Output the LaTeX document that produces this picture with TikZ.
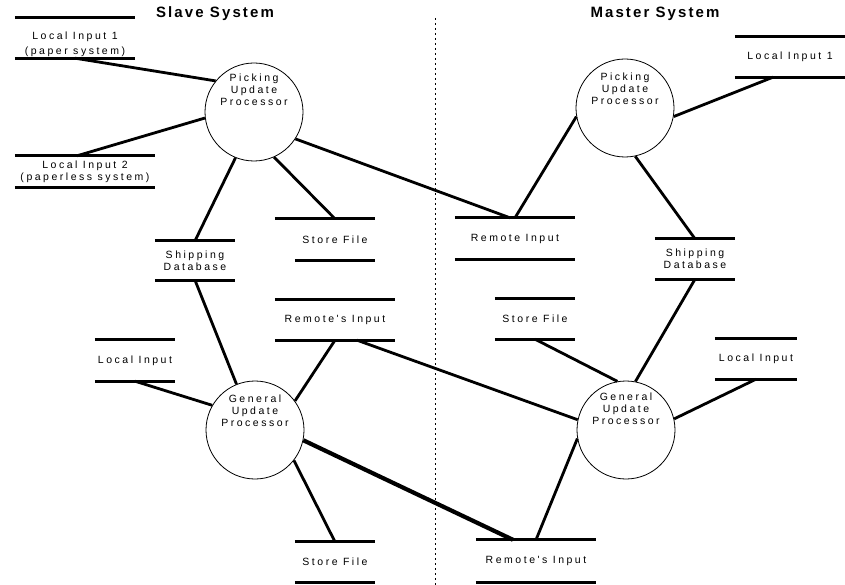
\documentclass[tikz,border=0pt]{standalone}
\usepackage{fontspec}
\setmainfont{Liberation Sans}
\newfontfamily\dfdfont[LetterSpace=24]{Liberation Sans}
\newfontfamily\headfont[LetterSpace=14]{Liberation Sans}
\usetikzlibrary{positioning, calc}

\begin{document}
\begin{tikzpicture}[x=1pt, y=-1pt,
    proc/.style={circle, draw, line width=0.8pt, minimum size=98pt, inner sep=0pt},
    proclabel/.style={align=center, inner sep=0pt, font=\dfdfont\fontsize{10.5}{12}\selectfont},
    store/.style={minimum height=40pt, inner sep=0pt, align=center, font=\dfdfont\fontsize{10.5}{12}\selectfont},
    bar/.style={line width=3pt},
    link/.style={line width=2.8pt},
    heavylink/.style={line width=4.2pt}]

\useasboundingbox (0,0) rectangle (845,585);

% Headings and the dotted divider
\node[font=\headfont\bfseries\fontsize{15}{17}\selectfont] (slavetitle) at (215,14) {Slave System};
\node[font=\headfont\bfseries\fontsize{15}{17}\selectfont] (mastertitle) at (655,14) {Master System};
\draw[dash pattern=on 2pt off 3pt, line width=1pt] (435,18) -- (435,585);

% Left side: slave processes
\node[proc] (sp) at (254,112) {};
\node[proclabel] (sp-t) at ([yshift=22pt]sp.center) {Picking\\Update\\Processor};
\node[proc] (gs) at (255,430) {};
\node[proclabel] (gs-t) at ([yshift=19pt]gs.center) {General\\Update\\Processor};

% Slave data stores
\node[store, minimum width=120pt] (li1s) at (75,44) {Local Input 1\\[3pt](paper system)};
\node[store, minimum width=140pt, minimum height=31pt] (li2s) at (85,171.5) {Local Input 2\\(paperless system)};
\node[store, minimum width=80pt, minimum height=39pt] (sdbs) at (195,260.5) {Shipping\\Database};
\node[store, minimum width=80pt, minimum height=41pt] (sf1s) at (335,239.5) {Store File};
\node[store, minimum width=120pt] (ris) at (335,320) {Remote's Input};
\node[store, minimum width=80pt, minimum height=41pt] (lis) at (135,360.5) {Local Input};
\node[store, minimum width=80pt] (sf2s) at (335,562) {Store File};

% Right side: master processes
\node[proc] (mp) at (625,108) {};
\node[proclabel] (mp-t) at ([yshift=19pt]mp.center) {Picking\\Update\\Processor};
\node[proc] (gm) at (626,430) {};
\node[proclabel] (gm-t) at ([yshift=21pt]gm.center) {General\\Update\\Processor};

% Master data stores
\node[store, minimum width=110pt] (li1m) at (790,57) {Local Input 1};
\node[store, minimum width=120pt, minimum height=41pt] (rim) at (515,238.5) {Remote Input};
\node[store, minimum width=80pt] (sfm) at (535,319) {Store File};
\node[store, minimum width=80pt] (sdbm) at (695,259) {Shipping\\Database};
\node[store, minimum width=82pt] (lim) at (756,359) {Local Input};
\node[store, minimum width=120pt, minimum height=42pt] (rim2) at (536,561) {Remote's Input};

% Store bars
\foreach \s in {li2s,sdbs,ris,lis,sf2s,li1m,rim,sfm,sdbm,lim,rim2} {
    \draw[bar] (\s.north west) -- (\s.north east);
    \draw[bar] (\s.south west) -- (\s.south east);
}
\draw[bar] ([yshift=6pt]li1s.north west) -- ([yshift=6pt]li1s.north east);
\draw[bar] ([yshift=6pt]li1s.south west) -- ([yshift=6pt]li1s.south east);
\draw[bar] ([xshift=-20pt]sf1s.north west) -- (sf1s.north east);
\draw[bar] (sf1s.south west) -- (sf1s.south east);

% Slave picking flows
\draw[link] ([yshift=6pt]li1s.south) -- (sp.141);
\draw[link] (sp.187) -- ([xshift=-8pt]li2s.north);
\draw[link] (sp.248) -- (sdbs.north);
\draw[link] (sp.294) -- (sf1s.north);
\draw[link] (sp.327) -- ([xshift=-5pt]rim.north);

% Slave general flows
\draw[link] (sdbs.south) -- (gs.112);
\draw[link] (ris.south) -- (gs.36);
\draw[link] ([xshift=22pt]ris.south) -- (gm.168);
\draw[link] (lis.south) -- (gs.150);
\draw[link] (gs.322) -- (sf2s.north);
\draw[heavylink] (gs.348) -- ([xshift=-23pt]rim2.north);

% Master flows
\draw[link] (mp.190) -- (rim.north);
\draw[link] (mp.350) -- ([xshift=-17pt]li1m.south);
\draw[link] (mp.282) -- (sdbm.north);
\draw[link] (sdbm.south) -- (gm.79);
\draw[link] (sfm.south) -- (gm.100);
\draw[link] (lim.south) -- (gm.13);
\draw[link] (rim2.north) -- (gm.190);
\end{tikzpicture}
\end{document}
